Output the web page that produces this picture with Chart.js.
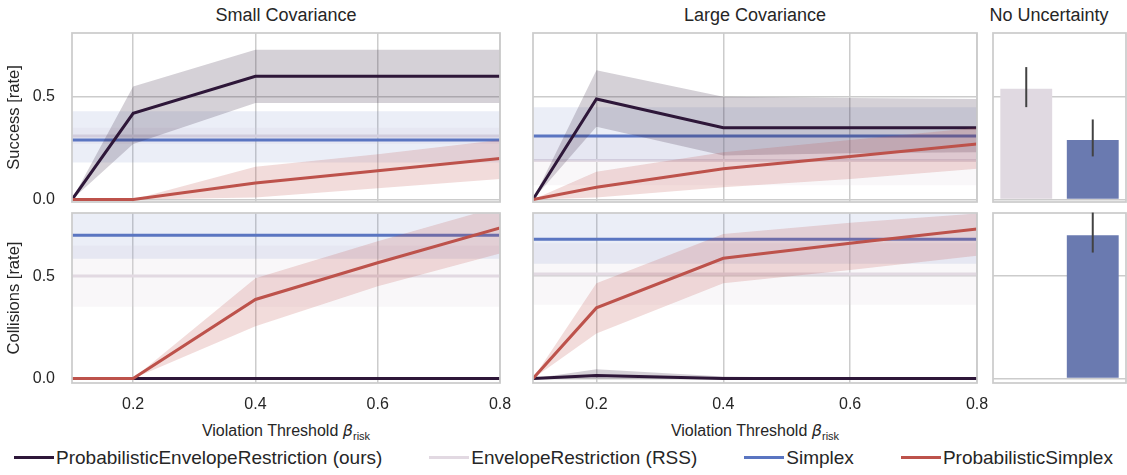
<!DOCTYPE html>
<html>
<head>
<meta charset="utf-8">
<script src="https://cdn.jsdelivr.net/npm/chart.js@4.4.1/dist/chart.umd.min.js"></script>
<style>
  body { margin: 0; background: #fff; width: 1127px; height: 475px; overflow: hidden; position: relative;
         font-family: "Liberation Sans", Arial, sans-serif; color: #262626; }
  canvas { position: absolute; left: 0; top: 0; }
  .title { position: absolute; top: 6px; font-size: 18px; line-height: 18px; transform: translateX(-50%); white-space: nowrap; }
  .xlab { position: absolute; top: 423px; font-size: 16px; line-height: 16px; transform: translateX(-50%); white-space: nowrap; }
  .xlab i { font-family: "DejaVu Sans", sans-serif; font-size: 16px; }
  .xlab sub { font-size: 11px; vertical-align: baseline; position: relative; top: 4px; }
  #legend { position: absolute; left: 14px; top: 448px; display: flex; gap: 47px; font-size: 19px; line-height: 19px; white-space: nowrap; }
  .item { display: flex; align-items: center; gap: 2px; }
  .item span.h { display: inline-block; width: 40px; height: 3.5px; }
</style>
</head>
<body>
<div class="title" style="left:286px">Small Covariance</div>
<div class="title" style="left:755px">Large Covariance</div>
<div class="title" style="left:1049px">No Uncertainty</div>
<div class="xlab" style="left:286px">Violation Threshold <i>β</i><sub>risk</sub></div>
<div class="xlab" style="left:755px">Violation Threshold <i>β</i><sub>risk</sub></div>
<div id="legend"></div>

<script>
/* ---------- data ---------- */
const betas  = [0.1, 0.2, 0.4, 0.6, 0.8];
const xTicks = [0.2, 0.4, 0.6, 0.8];
const yTicks = [0.0, 0.5];

const seriesNames = ['ProbabilisticEnvelopeRestriction (ours)', 'EnvelopeRestriction (RSS)', 'Simplex', 'ProbabilisticSimplex'];

// ProbabilisticEnvelopeRestriction (ours)
const perSuccessSmall     = [0, 0.42, 0.60, 0.60, 0.60];
const perSuccessSmallLo   = [0, 0.27, 0.47, 0.47, 0.47];
const perSuccessSmallHi   = [0, 0.55, 0.73, 0.73, 0.73];
const perSuccessLarge     = [0, 0.49, 0.35, 0.35, 0.35];
const perSuccessLargeLo   = [0, 0.355, 0.215, 0.225, 0.23];
const perSuccessLargeHi   = [0, 0.63, 0.50, 0.495, 0.49];
const perCollisionSmall   = [0, 0, 0, 0, 0];
const perCollisionSmallLo = [0, 0, 0, 0, 0];
const perCollisionSmallHi = [0, 0, 0, 0, 0];
const perCollisionLarge   = [0, 0.015, 0, 0, 0];
const perCollisionLargeLo = [0, 0, 0, 0, 0];
const perCollisionLargeHi = [0, 0.045, 0.01, 0, 0];

// ProbabilisticSimplex
const psSuccessSmall     = [0, 0, 0.08, 0.14, 0.20];
const psSuccessSmallLo   = [0, 0, 0.01, 0.055, 0.10];
const psSuccessSmallHi   = [0, 0, 0.16, 0.22, 0.29];
const psSuccessLarge     = [0, 0.06, 0.15, 0.21, 0.27];
const psSuccessLargeLo   = [0, 0.01, 0.06, 0.10, 0.15];
const psSuccessLargeHi   = [0, 0.135, 0.23, 0.29, 0.35];
const psCollisionSmall   = [0, 0, 0.386, 0.565, 0.735];
const psCollisionSmallLo = [0, 0, 0.255, 0.45, 0.61];
const psCollisionSmallHi = [0, 0, 0.49, 0.67, 0.84];
const psCollisionLarge   = [0, 0.345, 0.587, 0.66, 0.73];
const psCollisionLargeLo = [0, 0.22, 0.465, 0.53, 0.60];
const psCollisionLargeHi = [0, 0.465, 0.705, 0.76, 0.805];

// baselines (constant over beta): [small, large]
const simplexSuccess     = [0.29, 0.31];
const simplexSuccessLo   = [0.18, 0.19];
const simplexSuccessHi   = [0.43, 0.45];
const simplexCollision   = [0.70, 0.68];
const simplexCollisionLo = [0.585, 0.56];
const simplexCollisionHi = [0.83, 0.83];
const erSuccess          = [0.31, 0.19];
const erSuccessLo        = [0.27, 0.07];
const erSuccessHi        = [0.35, 0.31];
const erCollision        = [0.50, 0.51];
const erCollisionLo      = [0.35, 0.36];
const erCollisionHi      = [0.65, 0.66];

// No Uncertainty bars: [EnvelopeRestriction, Simplex]
const barLabels        = ['EnvelopeRestriction (RSS)', 'Simplex'];
const barSuccess       = [0.54, 0.29];
const barSuccessLo     = [0.45, 0.21];
const barSuccessHi     = [0.645, 0.39];
const barCollision     = [0.0, 0.70];
const barCollisionLo   = [0.0, 0.615];
const barCollisionHi   = [0.0, 0.81];

/* ---------- style / layout ---------- */
const C_PER = '#2e1739', C_ER = '#e2d9e2', C_SIM = '#5a75c1', C_PS = '#bd524b';
const BAR_COLORS = ['#e0d9e1', '#6a7ab0'];
const GRID = '#cccccc';
const W = 1127, H = 475;
const X_AXIS_H = 40;

const rows = {
  success:    { top: 33,  bottom: 202, min: -0.012,  max: 0.811, title: 'Success [rate]' },
  collisions: { top: 213, bottom: 383, min: -0.0215, max: 0.808, title: 'Collisions [rate]' }
};
const cols = {
  small: { left: 72,  right: 500 },
  large: { left: 533, right: 977 },
  bars:  { left: 993, right: 1126 }
};

Chart.defaults.font.family = '"Liberation Sans", Arial, sans-serif';
Chart.defaults.color = '#262626';

const framePlugin = {
  id: 'frame',
  afterDatasetsDraw(chart) {
    const a = chart.chartArea, ctx = chart.ctx;
    ctx.save();
    ctx.strokeStyle = GRID; ctx.lineWidth = 1.75;
    ctx.strokeRect(a.left, a.top, a.right - a.left, a.bottom - a.top);
    ctx.restore();
  }
};

const errPlugin = {
  id: 'errbars',
  afterDatasetsDraw(chart, args, opts) {
    if (!opts.lo) return;
    const ctx = chart.ctx, y = chart.scales.y, meta = chart.getDatasetMeta(0);
    ctx.save();
    ctx.strokeStyle = '#424242'; ctx.lineWidth = 2;
    meta.data.forEach((bar, i) => {
      ctx.beginPath();
      ctx.moveTo(bar.x, y.getPixelForValue(opts.lo[i]));
      ctx.lineTo(bar.x, y.getPixelForValue(opts.hi[i]));
      ctx.stroke();
    });
    ctx.restore();
  }
};

function newCanvas() {
  const c = document.createElement('canvas');
  c.width = W; c.height = H;
  document.body.appendChild(c);
  return c;
}

function yScale(row, showLabels) {
  return {
    min: row.min, max: row.max,
    afterBuildTicks: s => { s.ticks = yTicks.map(v => ({ value: v })); },
    ticks: { display: showLabels, padding: 17, font: { size: 16 }, callback: v => Number(v).toFixed(1) },
    grid: { color: GRID, lineWidth: 1.5, drawTicks: false },
    border: { display: false },
    title: { display: showLabels, text: row.title, font: { size: 16.5 }, padding: { top: 5, bottom: 0 } },
    afterFit: s => { s.width = showLabels ? 72 : 0; s.paddingTop = 0; s.paddingBottom = 0; }
  };
}

const pts = vals => betas.map((b, i) => ({ x: b, y: vals[i] }));
const flat = v => [{ x: betas[0], y: v }, { x: betas[betas.length - 1], y: v }];
const alpha = (hex, a) => {
  const n = parseInt(hex.slice(1), 16);
  return `rgba(${n >> 16},${(n >> 8) & 255},${n & 255},${a})`;
};

function lineDs(data, color, order) {
  return { data, borderColor: color, borderWidth: 3, pointRadius: 0, fill: false, tension: 0, order };
}
function bandDs(lo, hi, color, a, order) {
  return [
    { data: hi, borderColor: 'transparent', borderWidth: 0, pointRadius: 0, tension: 0,
      fill: '+1', backgroundColor: alpha(color, a), order },
    { data: lo, borderColor: 'transparent', borderWidth: 0, pointRadius: 0, tension: 0, fill: false, order }
  ];
}

function linePanel(col, row, showY, showX, s) {
  const datasets = [
    ...bandDs(flat(s.erLo), flat(s.erHi), C_ER, 0.2, 8),
    lineDs(flat(s.er), C_ER, 7),
    ...bandDs(flat(s.simLo), flat(s.simHi), C_SIM, 0.12, 6),
    lineDs(flat(s.sim), C_SIM, 5),
    ...bandDs(pts(s.perLo), pts(s.perHi), C_PER, 0.2, 4),
    lineDs(pts(s.per), C_PER, 3),
    ...bandDs(pts(s.psLo), pts(s.psHi), C_PS, 0.2, 2),
    lineDs(pts(s.ps), C_PS, 1)
  ];
  new Chart(newCanvas(), {
    type: 'line',
    data: { datasets },
    options: {
      responsive: false, animation: false, events: [],
      layout: { padding: { left: showY ? col.left - 72 : col.left, right: W - col.right,
                           top: row.top, bottom: H - row.bottom - X_AXIS_H } },
      plugins: { legend: { display: false }, tooltip: { enabled: false } },
      scales: {
        x: {
          type: 'linear', min: betas[0], max: betas[betas.length - 1],
          afterBuildTicks: sc => { sc.ticks = xTicks.map(v => ({ value: v })); },
          ticks: { display: showX, padding: 12, font: { size: 16 }, autoSkip: false, maxRotation: 0,
                   callback: v => Number(v).toFixed(1) },
          grid: { color: GRID, lineWidth: 1.5, drawTicks: false },
          border: { display: false },
          afterFit: sc => { sc.height = X_AXIS_H; sc.paddingLeft = 0; sc.paddingRight = 0; }
        },
        y: yScale(row, showY)
      }
    },
    plugins: [framePlugin]
  });
}

function barPanel(col, row, vals, lo, hi) {
  new Chart(newCanvas(), {
    type: 'bar',
    data: { labels: barLabels, datasets: [{ data: vals, backgroundColor: BAR_COLORS, borderWidth: 0,
            categoryPercentage: 0.78, barPercentage: 1 }] },
    options: {
      responsive: false, animation: false, events: [],
      layout: { padding: { left: col.left, right: W - col.right, top: row.top, bottom: H - row.bottom - X_AXIS_H } },
      plugins: { legend: { display: false }, tooltip: { enabled: false }, errbars: { lo, hi } },
      scales: {
        x: { ticks: { display: false }, grid: { display: false }, border: { display: false },
             afterFit: sc => { sc.height = X_AXIS_H; sc.paddingLeft = 0; sc.paddingRight = 0; } },
        y: yScale(row, false)
      }
    },
    plugins: [framePlugin, errPlugin]
  });
}

linePanel(cols.small, rows.success, true, false, {
  per: perSuccessSmall, perLo: perSuccessSmallLo, perHi: perSuccessSmallHi,
  ps: psSuccessSmall, psLo: psSuccessSmallLo, psHi: psSuccessSmallHi,
  sim: simplexSuccess[0], simLo: simplexSuccessLo[0], simHi: simplexSuccessHi[0],
  er: erSuccess[0], erLo: erSuccessLo[0], erHi: erSuccessHi[0]
});
linePanel(cols.large, rows.success, false, false, {
  per: perSuccessLarge, perLo: perSuccessLargeLo, perHi: perSuccessLargeHi,
  ps: psSuccessLarge, psLo: psSuccessLargeLo, psHi: psSuccessLargeHi,
  sim: simplexSuccess[1], simLo: simplexSuccessLo[1], simHi: simplexSuccessHi[1],
  er: erSuccess[1], erLo: erSuccessLo[1], erHi: erSuccessHi[1]
});
linePanel(cols.small, rows.collisions, true, true, {
  per: perCollisionSmall, perLo: perCollisionSmallLo, perHi: perCollisionSmallHi,
  ps: psCollisionSmall, psLo: psCollisionSmallLo, psHi: psCollisionSmallHi,
  sim: simplexCollision[0], simLo: simplexCollisionLo[0], simHi: simplexCollisionHi[0],
  er: erCollision[0], erLo: erCollisionLo[0], erHi: erCollisionHi[0]
});
linePanel(cols.large, rows.collisions, false, true, {
  per: perCollisionLarge, perLo: perCollisionLargeLo, perHi: perCollisionLargeHi,
  ps: psCollisionLarge, psLo: psCollisionLargeLo, psHi: psCollisionLargeHi,
  sim: simplexCollision[1], simLo: simplexCollisionLo[1], simHi: simplexCollisionHi[1],
  er: erCollision[1], erLo: erCollisionLo[1], erHi: erCollisionHi[1]
});
barPanel(cols.bars, rows.success, barSuccess, barSuccessLo, barSuccessHi);
barPanel(cols.bars, rows.collisions, barCollision, barCollisionLo, barCollisionHi);

// figure legend
const legend = document.getElementById('legend');
[C_PER, C_ER, C_SIM, C_PS].forEach((c, i) => {
  const item = document.createElement('div');
  item.className = 'item';
  item.innerHTML = `<span class="h" style="background:${c}"></span><span>${seriesNames[i]}</span>`;
  legend.appendChild(item);
});
</script>
</body>
</html>
